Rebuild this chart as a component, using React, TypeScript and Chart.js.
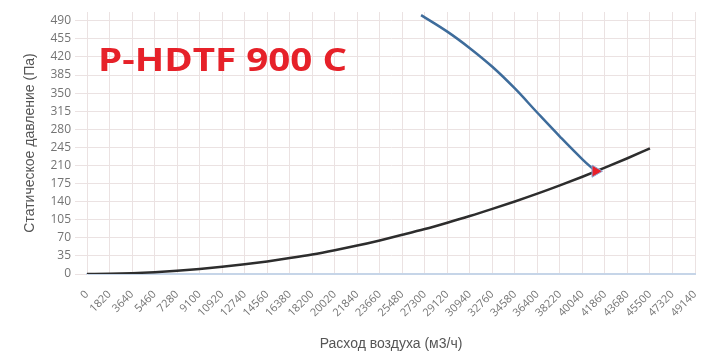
import React, { useEffect, useRef } from "react";
import { Chart, registerables } from "chart.js";

Chart.register(...registerables);

// X tick labels (air flow, m3/h)
const xTickValues = [
  0, 1820, 3640, 5460, 7280, 9100, 10920, 12740, 14560, 16380, 18200, 20020,
  21840, 23660, 25480, 27300, 29120, 30940, 32760, 34580, 36400, 38220, 40040,
  41860, 43680, 45500, 47320, 49140,
];
// Y tick labels (static pressure, Pa)
const yTickValues = [0, 35, 70, 105, 140, 175, 210, 245, 280, 315, 350, 385, 420, 455, 490];

// System (network) curve
const systemFlow = [
  0, 1820, 3640, 5460, 7280, 9100, 10920, 12740, 14560, 16380, 18200, 20020,
  21840, 23660, 25480, 27300, 29120, 30940, 32760, 34580, 36400, 38220, 40040,
  41860, 43680, 45500,
];
const systemPressure = [
  0, 0.4, 1.6, 3.5, 6.2, 9.6, 13.8, 18.7, 24.4, 30.8, 37.8, 46, 55, 65, 75.8,
  87, 99.3, 112.2, 126, 140.4, 155.5, 171.5, 188.2, 205.7, 224, 243,
];

// Fan curve
const fanFlow = [27000, 29120, 30940, 32760, 34580, 36400, 38220, 40040, 41100];
const fanPressure = [501, 469, 437, 401, 359, 312, 266, 222, 199];

// Operating point
const opFlow = [41100];
const opPressure = [199];

const titleText = "P-HDTF 900 C";

export default function App() {
  const canvasRef = useRef<HTMLCanvasElement | null>(null);

  useEffect(() => {
    const canvas = canvasRef.current;
    if (!canvas) return;

    const titlePlugin = {
      id: "modelTitle",
      afterDraw(chart: any) {
        const ctx = chart.ctx as CanvasRenderingContext2D;
        ctx.save();
        ctx.font = "bold 33px 'Open Sans', 'Liberation Sans', sans-serif";
        ctx.fillStyle = "#e62129";
        ctx.textBaseline = "alphabetic";
        ctx.textAlign = "left";
        const w = ctx.measureText(titleText).width;
        const target = 249;
        ctx.translate(98, 71);
        ctx.scale(target / w, 1);
        ctx.fillText(titleText, 0, 0);
        ctx.restore();
      },
    };

    const gridColor = "#ebe2e2";

    const chart = new Chart(canvas, {
      type: "line",
      data: {
        datasets: [
          {
            label: "op",
            data: opFlow.map((x, i) => ({ x, y: opPressure[i] })),
            showLine: false,
            pointStyle: "triangle",
            rotation: 90,
            pointRadius: 7,
            backgroundColor: "#e8202a",
            borderColor: "#8aa9d6",
            borderWidth: 1,
            order: 0,
          },
          {
            label: "fan",
            data: fanFlow.map((x, i) => ({ x, y: fanPressure[i] })),
            borderColor: "#3e6c9b",
            borderWidth: 2.5,
            pointRadius: 0,
            tension: 0.4,
            fill: false,
            order: 1,
          },
          {
            label: "system",
            data: systemFlow.map((x, i) => ({ x, y: systemPressure[i] })),
            borderColor: "#2d2d2d",
            borderWidth: 2.5,
            pointRadius: 0,
            tension: 0.4,
            cubicInterpolationMode: "monotone",
            fill: false,
            order: 2,
          },
        ],
      },
      options: {
        responsive: false,
        animation: false,
        events: [],
        layout: { padding: { top: 12, right: 4, left: 0, bottom: 0 } },
        plugins: {
          legend: { display: false },
          tooltip: { enabled: false },
          title: { display: false },
        },
        scales: {
          x: {
            type: "linear",
            min: 0,
            max: 49140,
            afterBuildTicks: (scale: any) => {
              scale.ticks = xTickValues.map((v) => ({ value: v }));
            },
            afterFit: (scale: any) => {
              scale.height = 80;
              scale.paddingLeft = 0;
              scale.paddingRight = 0;
            },
            ticks: {
              autoSkip: false,
              maxRotation: 45,
              minRotation: 45,
              padding: 14,
              color: "#747474",
              font: { family: "'Open Sans', sans-serif", size: 11 },
              callback: (v: any) => String(v),
            },
            grid: { color: gridColor, drawTicks: false, lineWidth: 1 },
            border: { color: "#c6d5e8", width: 2 },
            title: {
              display: true,
              text: "Расход воздуха (м3/ч)",
              color: "#555",
              font: { family: "'Liberation Sans', Arial, sans-serif", size: 14 },
              padding: { top: 0, bottom: 1 },
            },
          },
          y: {
            type: "linear",
            min: 0,
            max: 507,
            afterBuildTicks: (scale: any) => {
              scale.ticks = yTickValues.map((v) => ({ value: v }));
            },
            afterFit: (scale: any) => {
              scale.width = 87;
            },
            ticks: {
              padding: 4,
              color: "#747474",
              font: { family: "'Open Sans', sans-serif", size: 12 },
              callback: (v: any) => String(v),
            },
            grid: { color: gridColor, drawTicks: true, tickLength: 12, lineWidth: 1 },
            border: { color: gridColor, width: 1 },
            title: {
              display: true,
              text: "Статическое давление (Па)",
              color: "#555",
              font: { family: "'Liberation Sans', Arial, sans-serif", size: 14 },
              padding: { top: 22, bottom: 0 },
            },
          },
        },
      },
      plugins: [titlePlugin],
    } as any);

    return () => {
      chart.destroy();
    };
  }, []);

  return (
    <div style={{ position: "absolute", left: 0, top: 0, width: 703, height: 354 }}>
      <canvas ref={canvasRef} width={703} height={354} style={{ display: "block" }} />
    </div>
  );
}
